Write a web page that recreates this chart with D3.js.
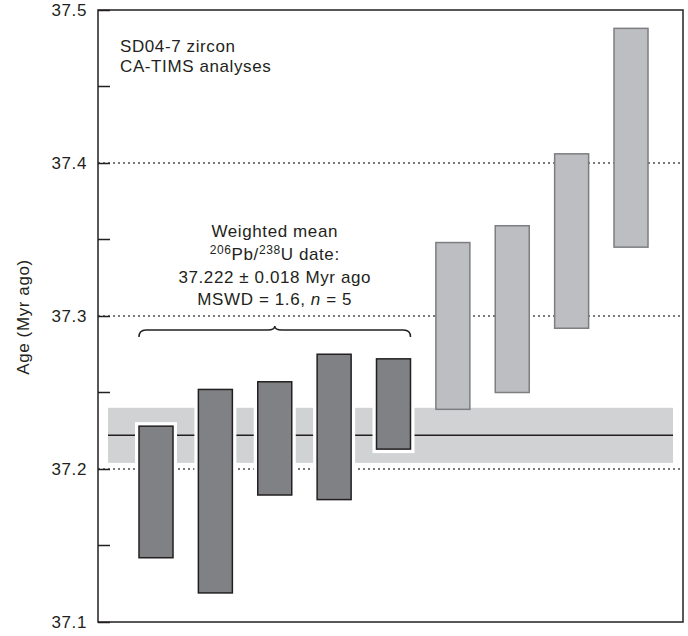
<!DOCTYPE html>
<html>
<head>
<meta charset="utf-8">
<script src="https://cdn.jsdelivr.net/npm/d3@7"></script>
<style>
  body { margin: 0; background: #fff; }
  text { font-family: "Liberation Sans", Arial, sans-serif; fill: #231f20; letter-spacing: 0.6px; }
</style>
</head>
<body>
<svg id="chart" width="688" height="636"></svg>
<script>
// analyses, ordered by age
var grains = ["z1", "z2", "z3", "z4", "z5", "z6", "z7", "z8", "z9"];
var lows   = [37.142, 37.119, 37.183, 37.180, 37.213, 37.239, 37.250, 37.292, 37.345];
var highs  = [37.228, 37.252, 37.257, 37.275, 37.272, 37.348, 37.359, 37.406, 37.488];
var inMean = [true, true, true, true, true, false, false, false, false];

var meanAge = 37.222, meanErr = 0.018;
var majorTicks = [37.1, 37.2, 37.3, 37.4, 37.5];
var minorTicks = [37.15, 37.25, 37.35, 37.45];
var gridTicks = [37.2, 37.3, 37.4];

var svg = d3.select("#chart");
// note: "top" is taken by window.top, so plot edges get their own names
var pLeft = 98, pRight = 683, pTop = 10, pBottom = 622;

var y = d3.scaleLinear().domain([37.1, 37.5]).range([pBottom, pTop]);
var x = d3.scaleLinear().domain([0, 8]).range([156, 631]);
var barW = 34;

// dotted grid
svg.append("g").selectAll("line")
  .data(gridTicks)
  .enter().append("line")
    .attr("x1", pLeft).attr("x2", pRight)
    .attr("y1", d => y(d)).attr("y2", d => y(d))
    .attr("stroke", "#4d4d4f").attr("stroke-width", 1.4)
    .attr("stroke-dasharray", "2,3");

// weighted mean band + line
svg.append("rect")
  .attr("x", 108).attr("width", 673 - 108)
  .attr("y", y(meanAge + meanErr))
  .attr("height", y(meanAge - meanErr) - y(meanAge + meanErr))
  .attr("fill", "#d1d2d4");
svg.append("line")
  .attr("x1", 108).attr("x2", 673)
  .attr("y1", y(meanAge)).attr("y2", y(meanAge))
  .attr("stroke", "#231f20").attr("stroke-width", 1.5);

var idx = d3.range(grains.length);

// white halo behind analyses used in the mean
svg.append("g").selectAll("rect")
  .data(idx.filter(i => inMean[i]))
  .enter().append("rect")
    .attr("x", i => x(i) - barW / 2 - 4)
    .attr("width", barW + 8)
    .attr("y", i => y(highs[i]) - 4)
    .attr("height", i => y(lows[i]) - y(highs[i]) + 8)
    .attr("fill", "#fff");

// error bars
svg.append("g").selectAll("rect")
  .data(idx)
  .enter().append("rect")
    .attr("x", i => x(i) - barW / 2)
    .attr("width", barW)
    .attr("y", i => y(highs[i]))
    .attr("height", i => y(lows[i]) - y(highs[i]))
    .attr("fill", i => inMean[i] ? "#808184" : "#bdbec1")
    .attr("stroke", i => inMean[i] ? "#231f20" : "#7d7e81")
    .attr("stroke-width", 1.5);

// frame
svg.append("rect")
  .attr("x", pLeft).attr("y", pTop)
  .attr("width", pRight - pLeft).attr("height", pBottom - pTop)
  .attr("fill", "none").attr("stroke", "#231f20").attr("stroke-width", 1.5);

// y axis ticks
var axis = d3.axisLeft(y).tickValues(majorTicks).tickFormat(d3.format(".1f"))
  .tickSize(-12).tickPadding(11);
var ag = svg.append("g").attr("transform", "translate(" + pLeft + ",0)").call(axis);
ag.select(".domain").remove();
ag.selectAll(".tick line").attr("stroke", "#231f20").attr("stroke-width", 1.5);
ag.selectAll(".tick text").attr("font-size", 17).attr("fill", "#231f20")
  .attr("font-family", "Liberation Sans, Arial, sans-serif");
svg.append("g").selectAll("line")
  .data(minorTicks)
  .enter().append("line")
    .attr("x1", pLeft).attr("x2", pLeft + 12)
    .attr("y1", d => y(d)).attr("y2", d => y(d))
    .attr("stroke", "#231f20").attr("stroke-width", 1.5);

svg.append("text")
  .attr("transform", "translate(29," + 317 + ") rotate(-90)")
  .attr("text-anchor", "middle")
  .attr("font-size", 17)
  .text("Age (Myr ago)");

// sample label
var lab = svg.append("text").attr("x", 120).attr("y", 52).attr("font-size", 17);
lab.append("tspan").attr("x", 120).text("SD04-7 zircon");
lab.append("tspan").attr("x", 120).attr("dy", 20).text("CA-TIMS analyses");

// bracket over the analyses in the mean
var bx0 = x(0) - barW / 2, bx1 = x(4) + barW / 2, bmid = (bx0 + bx1) / 2;
var by = 330;
svg.append("path")
  .attr("d", "M" + bx0 + "," + (by + 7) + " Q" + bx0 + "," + by + " " + (bx0 + 7) + "," + by +
    " L" + (bmid - 7) + "," + by + " Q" + bmid + "," + by + " " + bmid + "," + (by - 4) +
    " Q" + bmid + "," + by + " " + (bmid + 7) + "," + by +
    " L" + (bx1 - 7) + "," + by + " Q" + bx1 + "," + by + " " + bx1 + "," + (by + 7))
  .attr("fill", "none").attr("stroke", "#231f20").attr("stroke-width", 1.5);

var note = svg.append("g").attr("font-size", 17);
note.append("text").attr("x", bmid).attr("y", 237).attr("text-anchor", "middle")
  .text("Weighted mean");
var t2 = note.append("text").attr("x", bmid).attr("y", 260).attr("text-anchor", "middle");
t2.append("tspan").attr("font-size", 12).attr("dy", -6).text("206");
t2.append("tspan").attr("dy", 6).text("Pb/");
t2.append("tspan").attr("font-size", 12).attr("dy", -6).text("238");
t2.append("tspan").attr("dy", 6).text("U date:");
note.append("text").attr("x", bmid).attr("y", 283).attr("text-anchor", "middle")
  .text("37.222 \u00b1 0.018 Myr ago");
var t4 = note.append("text").attr("x", bmid).attr("y", 305).attr("text-anchor", "middle");
t4.append("tspan").text("MSWD = 1.6, ");
t4.append("tspan").attr("font-style", "italic").text("n");
t4.append("tspan").text(" = 5");
</script>
</body>
</html>
